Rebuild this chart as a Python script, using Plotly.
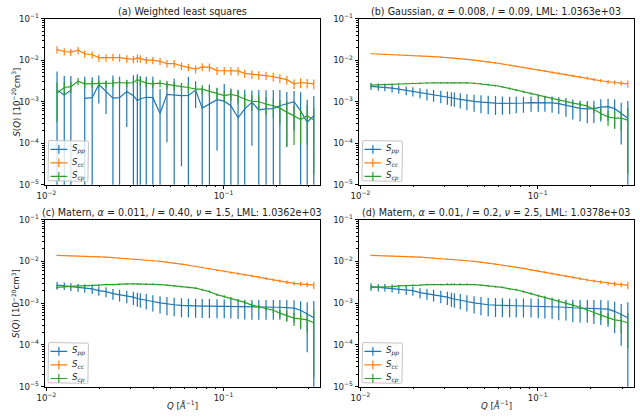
import plotly.graph_objects as go

# ---------------- data ----------------
Q = [0.01147, 0.01260, 0.01373, 0.01508, 0.01644, 0.01812, 0.01975, 0.02169, 0.02373, 0.02586,
     0.02841, 0.03096, 0.03260, 0.03388, 0.03660, 0.03988, 0.04379, 0.04790, 0.05262, 0.05786,
     0.06330, 0.06953, 0.07577, 0.08322, 0.09187, 0.1009, 0.1100, 0.1208, 0.1317, 0.1446,
     0.1581, 0.1738, 0.1910, 0.2080, 0.2276, 0.2501, 0.2724, 0.2967, 0.3234]

# (a) weighted least squares
spp_a = [0.0019, 0.00145, 0.0019, None, 0.0012, 0.00125, 0.0026, 0.0018, 0.00122, 0.00125,
         0.00175, 0.0014, 0.00106, 0.00118, 0.00128, 0.00125, 0.00052, 0.0015, 0.00142, 0.0014,
         0.00142, 0.0019, 0.0007, 0.00087, 0.00112, 0.00103, 0.0008, 0.00041, 0.00067, 0.00097,
         0.00064, 0.00067, 0.00068, 0.0008, 0.0009, 0.001, 0.0006, 0.00032, 0.00046]
spp_a_rel = [1.8, 1.9, 1.2, 0, 2.3, 2.1, 0.65, 0.72, 2.5, 2.2,
             0.86, 2.1, 3.3, 2.5, 2.1, 2.2, 2.9, 0.93, 1.5, 0.98,
             1.8, 0.63, 2.1, 2.0, 0.94, 1.6, 1.6, 3.7, 1.9, 0.91,
             2.0, 1.8, 1.8, 1.4, 0.91, 0.8, 1.8, 2.5, 2.0]
scc_a = [0.0180, 0.0162, 0.0156, 0.0174, 0.0143, 0.0135, 0.0115, 0.0115, 0.0119, 0.0115,
         0.0109, 0.0105, 0.0113, 0.0109, 0.0100, 0.0100, 0.0094, 0.0083, 0.0083, 0.0073,
         0.0068, 0.0061, 0.0069, 0.0068, 0.0056, 0.0056, 0.0055, 0.0055, 0.0048, 0.0046,
         0.0044, 0.0043, 0.0040, 0.0037, 0.0034, 0.0027, 0.0029, 0.0028, 0.0027]
scc_a_rel = [0.2, 0.2, 0.19, 0.2, 0.2, 0.2, 0.2, 0.2, 0.2, 0.2,
             0.2, 0.2, 0.22, 0.2, 0.2, 0.2, 0.2, 0.21, 0.21, 0.21,
             0.21, 0.22, 0.22, 0.22, 0.22, 0.22, 0.22, 0.22, 0.23, 0.23,
             0.23, 0.23, 0.24, 0.24, 0.24, 0.26, 0.26, 0.26, 0.27]
scp_a = [0.0016, 0.0022, 0.0023, 0.0031, 0.0027, 0.0027, 0.0027, 0.0027, 0.0028, 0.0029,
         0.0028, 0.0029, 0.0034, 0.0032, 0.0028, 0.0027, 0.0028, 0.0026, 0.0024, 0.0023,
         0.0022, 0.0020, 0.0020, 0.0018, 0.0016, 0.0014, 0.0015, 0.00137, 0.00115, 0.00101,
         0.00101, 0.00087, 0.0008, 0.0007, 0.00056, 0.00045, 0.00037, 0.00046, 0.00036]
scp_a_rel = [0.8, 0.35, 0.3, 0.2, 0.2, 0.2, 0.2, 0.2, 0.2, 0.2,
             0.2, 0.2, 0.22, 0.22, 0.2, 0.2, 0.2, 0.22, 0.22, 0.22,
             0.25, 0.25, 0.25, 0.25, 0.3, 0.3, 0.3, 0.35, 0.35, 0.4,
             0.4, 0.45, 0.5, 0.6, 0.85, 0.8, 0.75, 0.8, 0.95]

# (b) Gaussian
spp_b = [0.00235, 0.00228, 0.00222, 0.00212, 0.0020, 0.00188, 0.00178, 0.00165, 0.00153, 0.00145,
         0.00137, 0.0013, 0.00124, 0.00121, 0.00114, 0.00107, 0.00102, 0.00098, 0.00094, 0.00092,
         0.00091, 0.00091, 0.00092, 0.00093, 0.00095, 0.00096, 0.00096, 0.00094, 0.0009, 0.00083,
         0.00075, 0.00069, 0.00067, 0.00068, 0.00074, 0.00076, 0.00068, 0.00052, 0.0004]
spp_b_rel = [0.19, 0.2, 0.2, 0.21, 0.22, 0.24, 0.25, 0.27, 0.3, 0.31,
             0.33, 0.35, 0.37, 0.38, 0.4, 0.42, 0.44, 0.46, 0.47, 0.48,
             0.47, 0.45, 0.43, 0.42, 0.4, 0.4, 0.4, 0.42, 0.44, 0.48,
             0.5, 0.52, 0.55, 0.55, 0.55, 0.55, 0.65, 0.82, 1.6]
scc_b = [0.0143, 0.0141, 0.0139, 0.0137, 0.0135, 0.0133, 0.0131, 0.0128, 0.0125, 0.0122,
         0.0119, 0.0116, 0.0114, 0.0112, 0.0109, 0.0105, 0.0100, 0.0096, 0.0091, 0.0086,
         0.0081, 0.0076, 0.0072, 0.0067, 0.0063, 0.0058, 0.0055, 0.0051, 0.0048, 0.0045,
         0.0042, 0.0039, 0.0037, 0.0034, 0.0032, 0.0030, 0.0029, 0.0028, 0.0027]
scc_b_rel = [0.03, 0.03, 0.03, 0.03, 0.03, 0.03, 0.03, 0.03, 0.03, 0.03,
             0.03, 0.03, 0.03, 0.03, 0.03, 0.035, 0.035, 0.035, 0.035, 0.04,
             0.04, 0.04, 0.045, 0.045, 0.05, 0.05, 0.055, 0.06, 0.06, 0.065,
             0.07, 0.075, 0.08, 0.09, 0.1, 0.11, 0.12, 0.14, 0.2]
scp_b = [0.0025, 0.00255, 0.0026, 0.00265, 0.0027, 0.00273, 0.00276, 0.00279, 0.00282, 0.00284,
         0.00286, 0.00287, 0.00287, 0.00287, 0.00286, 0.00283, 0.00278, 0.0027, 0.0026, 0.00245,
         0.00228, 0.00208, 0.0019, 0.00172, 0.00155, 0.0014, 0.00128, 0.00117, 0.00107, 0.00098,
         0.00092, 0.00086, 0.00078, 0.00066, 0.00052, 0.00043, 0.0004, 0.0004, 0.00036]
scp_b_rel = [0.12, 0.06, 0.05, 0.04, 0.04, 0.04, 0.04, 0.04, 0.04, 0.04,
             0.04, 0.04, 0.04, 0.04, 0.04, 0.04, 0.04, 0.04, 0.05, 0.05,
             0.05, 0.05, 0.06, 0.06, 0.07, 0.07, 0.08, 0.08, 0.09, 0.1,
             0.11, 0.12, 0.15, 0.2, 0.3, 0.4, 0.45, 0.5, 0.95]

# (c) Matern nu=1.5
spp_c = [0.0027, 0.0026, 0.0025, 0.0024, 0.0023, 0.0022, 0.0020, 0.0019, 0.0017, 0.0016,
         0.0015, 0.0014, 0.0013, 0.00125, 0.00118, 0.0011, 0.00102, 0.00096, 0.00092, 0.00089,
         0.00087, 0.00086, 0.00085, 0.00085, 0.00084, 0.00084, 0.00083, 0.00082, 0.00081, 0.0008,
         0.0008, 0.0008, 0.0008, 0.0008, 0.00079, 0.00076, 0.00068, 0.00056, 0.00045]
spp_c_rel = [0.2, 0.2, 0.21, 0.22, 0.23, 0.24, 0.25, 0.27, 0.29, 0.31,
             0.33, 0.35, 0.37, 0.38, 0.4, 0.42, 0.44, 0.46, 0.47, 0.48,
             0.48, 0.48, 0.48, 0.48, 0.48, 0.48, 0.48, 0.49, 0.5, 0.5,
             0.5, 0.5, 0.5, 0.5, 0.52, 0.55, 0.65, 0.88, 1.5]
scc_c = [0.0140, 0.0139, 0.0137, 0.0135, 0.0133, 0.0131, 0.0129, 0.0127, 0.0124, 0.0121,
         0.0118, 0.0115, 0.0113, 0.0111, 0.0108, 0.0104, 0.0100, 0.0096, 0.0091, 0.0086,
         0.0081, 0.0076, 0.0072, 0.0067, 0.0062, 0.0058, 0.0054, 0.0051, 0.0048, 0.0045,
         0.0042, 0.0039, 0.0036, 0.0034, 0.0032, 0.0030, 0.0029, 0.0028, 0.0027]
scc_c_rel = scc_b_rel
scp_c = [0.0024, 0.0025, 0.0025, 0.0026, 0.0026, 0.0027, 0.0027, 0.0028, 0.0028, 0.0029,
         0.0029, 0.0029, 0.0029, 0.0029, 0.0029, 0.0029, 0.0028, 0.0027, 0.0026, 0.0025,
         0.0024, 0.0023, 0.0021, 0.0019, 0.0016, 0.00145, 0.0013, 0.00118, 0.00105, 0.0009,
         0.00083, 0.00075, 0.00068, 0.00058, 0.0005, 0.00044, 0.00042, 0.0004, 0.00034]
scp_c_rel = [0.1, 0.06, 0.05, 0.04, 0.04, 0.04, 0.04, 0.04, 0.04, 0.04,
             0.04, 0.04, 0.04, 0.04, 0.04, 0.04, 0.04, 0.04, 0.05, 0.05,
             0.05, 0.05, 0.06, 0.06, 0.07, 0.07, 0.08, 0.08, 0.09, 0.1,
             0.11, 0.12, 0.15, 0.2, 0.28, 0.35, 0.4, 0.5, 0.95]

# (d) Matern nu=2.5
spp_d = [0.0025, 0.0024, 0.0024, 0.0023, 0.0022, 0.0021, 0.0020, 0.0018, 0.0017, 0.0016,
         0.0015, 0.0014, 0.0013, 0.00125, 0.00118, 0.0011, 0.00102, 0.00096, 0.00092, 0.0009,
         0.00089, 0.00088, 0.00088, 0.00088, 0.00088, 0.00087, 0.00086, 0.00084, 0.00082, 0.0008,
         0.00078, 0.00077, 0.00077, 0.00076, 0.00075, 0.00072, 0.00064, 0.00053, 0.00045]
spp_d_rel = [0.2, 0.2, 0.21, 0.22, 0.23, 0.24, 0.25, 0.27, 0.29, 0.31,
             0.33, 0.35, 0.37, 0.38, 0.4, 0.42, 0.44, 0.46, 0.47, 0.48,
             0.48, 0.48, 0.48, 0.48, 0.48, 0.5, 0.5, 0.5, 0.52, 0.52,
             0.55, 0.55, 0.56, 0.58, 0.6, 0.62, 0.7, 0.82, 1.35]
scc_d = [0.0140, 0.0139, 0.0137, 0.0135, 0.0133, 0.0131, 0.0129, 0.0127, 0.0124, 0.0121,
         0.0118, 0.0115, 0.0113, 0.0111, 0.0108, 0.0104, 0.0100, 0.0096, 0.0091, 0.0086,
         0.0081, 0.0077, 0.0072, 0.0068, 0.0063, 0.0059, 0.0055, 0.0051, 0.0048, 0.0045,
         0.0042, 0.0039, 0.0036, 0.0034, 0.0032, 0.0030, 0.0029, 0.0028, 0.0027]
scc_d_rel = scc_b_rel
scp_d = [0.0024, 0.0024, 0.0025, 0.0025, 0.0026, 0.0026, 0.0027, 0.0027, 0.0028, 0.0028,
         0.0028, 0.0029, 0.0029, 0.0029, 0.0029, 0.0029, 0.0028, 0.0027, 0.0026, 0.0025,
         0.0024, 0.0022, 0.0021, 0.0019, 0.0017, 0.0015, 0.0014, 0.00127, 0.00115, 0.001,
         0.0009, 0.0008, 0.0007, 0.0006, 0.00052, 0.00045, 0.0004, 0.00038, 0.00034]
scp_d_rel = [0.1, 0.06, 0.05, 0.04, 0.04, 0.04, 0.04, 0.04, 0.04, 0.04,
             0.04, 0.04, 0.04, 0.04, 0.04, 0.04, 0.04, 0.04, 0.05, 0.05,
             0.05, 0.05, 0.06, 0.06, 0.07, 0.07, 0.08, 0.08, 0.09, 0.1,
             0.11, 0.12, 0.15, 0.2, 0.25, 0.3, 0.35, 0.5, 0.75]

titles = ["(a) Weighted least squares",
          "(b) Gaussian, <i>α</i> = 0.008, <i>l</i> = 0.09, LML: 1.0363e+03",
          "(c) Matern, <i>α</i> = 0.011, <i>l</i> = 0.40, <i>ν</i> = 1.5, LML: 1.0362e+03",
          "(d) Matern, <i>α</i> = 0.01, <i>l</i> = 0.2, <i>ν</i> = 2.5, LML: 1.0378e+03"]
series_names = ["<i>S<sub>pp</sub></i>", "<i>S<sub>cc</sub></i>", "<i>S<sub>cp</sub></i>"]
colors = ["#1f77b4", "#ff7f0e", "#2ca02c"]

panels = [
    [(spp_a, spp_a_rel), (scc_a, scc_a_rel), (scp_a, scp_a_rel)],
    [(spp_b, spp_b_rel), (scc_b, scc_b_rel), (scp_b, scp_b_rel)],
    [(spp_c, spp_c_rel), (scc_c, scc_c_rel), (scp_c, scp_c_rel)],
    [(spp_d, spp_d_rel), (scc_d, scc_d_rel), (scp_d, scp_d_rel)],
]

# ---------------- layout geometry (pixels) ----------------
W, H = 640, 417
boxes = [(37, 316, 12, 183), (355, 634, 12, 183), (37, 316, 219, 391), (355, 634, 219, 391)]
XR = [-2.011, -0.455]
YR = [-5, -1]
FONT = "DejaVu Sans"
TXT = "#222222"


def px(x):
    return x / W


def py(y):
    return 1 - y / H


fig = go.Figure()
layout = dict(width=W, height=H, margin=dict(l=0, r=0, t=0, b=0),
              paper_bgcolor="white", plot_bgcolor="white", showlegend=False,
              font=dict(family=FONT, color=TXT))

xminor = [m * 10 ** e for e in (-3, -2, -1) for m in range(2, 10)]
yminor = [m * 10 ** e for e in (-6, -5, -4, -3, -2) for m in range(2, 10)]
annotations = []
overlay_traces = []

for i, (x0, x1, y0, y1) in enumerate(boxes):
    k = "" if i == 0 else str(i + 1)
    ko = str(i + 5)  # overlay axes (pixel coordinates) for the legend box
    common = dict(showline=True, mirror=True, linecolor="black", linewidth=0.8,
                  ticks="outside", ticklen=3, tickwidth=0.8, tickcolor="black",
                  showgrid=False, zeroline=False,
                  tickfont=dict(size=8.6, family=FONT, color=TXT))
    layout["xaxis" + k] = dict(type="log", domain=[px(x0), px(x1)], range=XR,
                               anchor="y" + k,
                               tickvals=[0.01, 0.1], ticktext=["10<sup>−2</sup>", "10<sup>−1</sup>"],
                               minor=dict(ticks="outside", ticklen=1.7, tickwidth=0.6,
                                          tickcolor="black", tickvals=xminor, showgrid=False),
                               **common)
    layout["yaxis" + k] = dict(type="log", domain=[py(y1), py(y0)], range=YR, anchor="x" + k,
                               tickvals=[1e-5, 1e-4, 1e-3, 1e-2, 1e-1],
                               ticktext=["10<sup>−5</sup>", "10<sup>−4</sup>", "10<sup>−3</sup>",
                                         "10<sup>−2</sup>", "10<sup>−1</sup>"],
                               minor=dict(ticks="outside", ticklen=1.7, tickwidth=0.6,
                                          tickcolor="black", tickvals=yminor, showgrid=False),
                               **common)
    layout["xaxis" + ko] = dict(overlaying="x" + k, range=[x0, x1], visible=False,
                                anchor="y" + ko, fixedrange=True)
    layout["yaxis" + ko] = dict(overlaying="y" + k, range=[y1, y0], visible=False,
                                anchor="x" + ko, fixedrange=True)
    for (vals, rel), col in zip(panels[i], colors):
        err = [(v * r if v is not None else 0) for v, r in zip(vals, rel)]
        fig.add_trace(go.Scatter(x=Q, y=vals, mode="lines", line=dict(color=col, width=1.2),
                                 error_y=dict(type="data", array=err, visible=True, color=col,
                                              thickness=1.2, width=0),
                                 xaxis="x" + k, yaxis="y" + k, showlegend=False,
                                 connectgaps=False, hoverinfo="skip"))

    # ---- legend box (matplotlib style), pixel coordinates on overlay axes ----
    bx0, bx1, by0, by1, r = x0 + 3.5, x0 + 44.5, y1 - 45.5, y1 - 3.5, 2
    bxs = [bx0 + r, bx1 - r, bx1 - 0.6, bx1, bx1, bx1 - 0.6, bx1 - r, bx0 + r, bx0 + 0.6, bx0,
           bx0, bx0 + 0.6, bx0 + r]
    bys = [by0, by0, by0 + 0.6, by0 + r, by1 - r, by1 - 0.6, by1, by1, by1 - 0.6, by1 - r,
           by0 + r, by0 + 0.6, by0]
    overlay_traces.append(go.Scatter(x=bxs, y=bys, mode="lines", fill="toself",
                                     fillcolor="rgba(255,255,255,0.8)",
                                     line=dict(color="#c4c4c4", width=1),
                                     xaxis="x" + ko, yaxis="y" + ko, showlegend=False,
                                     hoverinfo="skip"))
    for j, (name, col) in enumerate(zip(series_names, colors)):
        yc = y1 - 37 + 14 * j + 0.5
        overlay_traces.append(go.Scatter(x=[x0 + 6, x0 + 23, None, x0 + 14.5, x0 + 14.5],
                                         y=[yc, yc, None, yc - 4.5, yc + 4.5],
                                         mode="lines", line=dict(color=col, width=1.2),
                                         xaxis="x" + ko, yaxis="y" + ko, showlegend=False,
                                         hoverinfo="skip", connectgaps=False))
        annotations.append(dict(text=name, x=px(x0 + 26), y=py(yc), xref="paper", yref="paper",
                                showarrow=False, xanchor="left", yanchor="middle",
                                font=dict(size=8.6, family=FONT, color=TXT)))

    annotations.append(dict(text=titles[i], x=px((x0 + x1) / 2), y=py(y0 - 7),
                            xref="paper", yref="paper", showarrow=False,
                            xanchor="center", yanchor="middle",
                            font=dict(size=9.6, family=FONT, color=TXT)))
    if i in (0, 2):
        annotations.append(dict(text="<i>S</i>(<i>Q</i>) [10<sup>−20</sup>cm<sup>3</sup>]",
                                x=px(8), y=py((y0 + y1) / 2), xref="paper", yref="paper",
                                showarrow=False, textangle=-90, xanchor="center",
                                yanchor="middle",
                                font=dict(size=8.6, family=FONT, color=TXT)))
    if i in (2, 3):
        annotations.append(dict(text="<i>Q</i> [<i>Å</i><sup>−1</sup>]",
                                x=px((x0 + x1) / 2), y=py(410), xref="paper", yref="paper",
                                showarrow=False, xanchor="center", yanchor="middle",
                                font=dict(size=8.6, family=FONT, color=TXT)))

for t in overlay_traces:
    fig.add_trace(t)

layout["annotations"] = annotations
fig.update_layout(**layout)
fig.write_html("out.html")
